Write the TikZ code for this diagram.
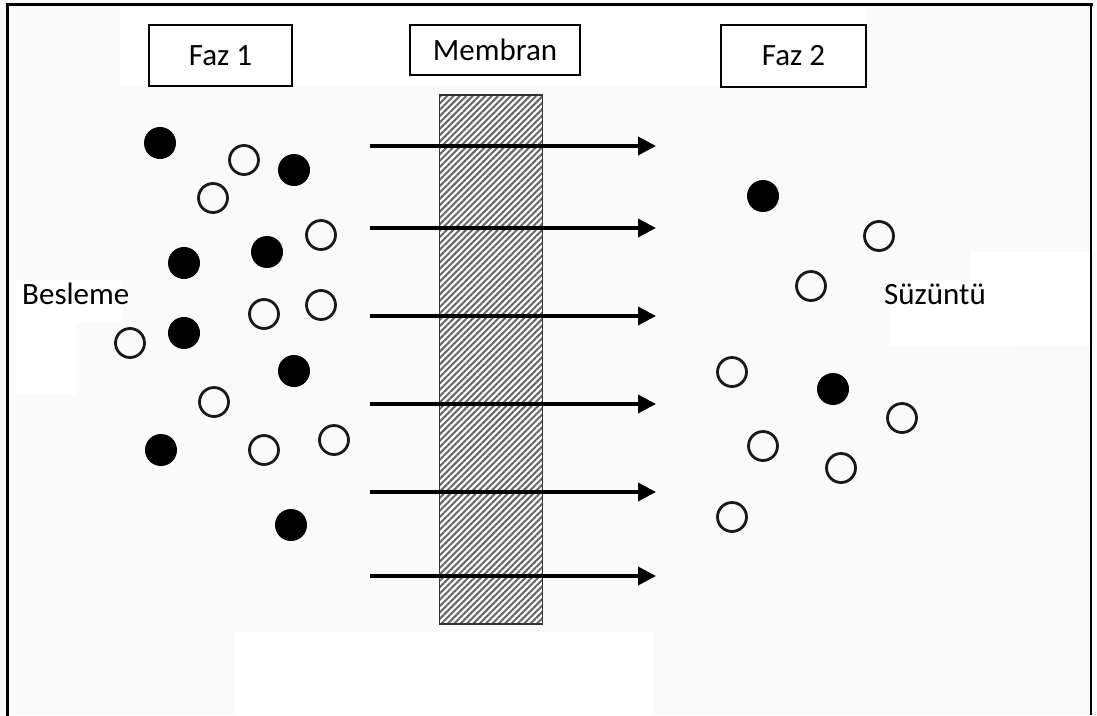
\documentclass[tikz,border=0pt]{standalone}
\usepackage{fontspec}
\setmainfont{Carlito}
\usetikzlibrary{patterns.meta,arrows.meta}
\definecolor{bgray}{HTML}{FAFAFA}
\tikzset{
  filled/.style={circle,fill=black,minimum size=32pt,inner sep=0pt},
  hollow/.style={circle,draw=black!90,line width=2.8pt,minimum size=29pt,inner sep=0pt},
  label box/.style={draw=black,line width=1.3pt,fill=white,inner sep=0pt,font=\fontsize{31}{37}\selectfont},
  plain text/.style={inner sep=0pt,font=\fontsize{31}{37}\selectfont},
  flow/.style={line width=3.5pt,-{Triangle[length=18pt,width=18pt]}},
  frame/.style={line width=3pt,line cap=rect}
}
\begin{document}
\begin{tikzpicture}[x=1pt,y=-1pt]
\useasboundingbox (0,0) rectangle (1097,715);
% background and subtle white patches
\fill[bgray] (0,0) rectangle (1097,715);
\fill[white] (120,8) rectangle (866,87);
\fill[white] (235,632) rectangle (653,715);
\fill[white] (10,280) rectangle (123,323);
\fill[white] (10,323) rectangle (76,395);
\fill[white] (970,252) rectangle (1090,345);
\fill[white] (890,280) rectangle (1010,346);
% frame
\coordinate (fl) at (7,715);
\coordinate (ftl) at (7,4.5);
\coordinate (ftr) at (1091,4.5);
\coordinate (fr) at (1091,715);
\draw[frame] (fl) -- (ftl) -- (ftr);
\draw[line width=1.5pt] (ftr) -- (fr);
% label boxes
\node[label box,minimum width=143pt,minimum height=61pt] (faz1) at (220.5,55.5) {Faz 1};
\node[label box,minimum width=170pt,minimum height=50pt] (membran) at (495,50) {Membran};
\node[label box,minimum width=145pt,minimum height=62pt] (faz2) at (793.5,56) {Faz 2};
% side labels
\node[plain text,anchor=base west] (besleme) at (22,304) {Besleme};
\node[plain text,anchor=base west] (suzuntu) at (884,304) {Süzüntü};
% membrane
\node[draw=black!80,line width=1.5pt,minimum width=103pt,minimum height=529pt,inner sep=0pt,
  pattern={Lines[angle=45,distance=4.5pt,line width=2pt]},pattern color=black!60] (mem) at (491,359.5) {};
% arrows
\foreach \i/\y in {1/146,2/228,3/316,4/404,5/492,6/576}{
  \coordinate (s\i) at (370,\y);
  \coordinate (e\i) at (656,\y);
  \draw[flow] (s\i) -- (e\i);
}
% feed side particles
\node[filled] (a1) at (160,143) {};
\node[hollow] (a2) at (244,160) {};
\node[filled] (a3) at (294,170) {};
\node[hollow] (a4) at (213,198) {};
\node[hollow] (a5) at (321,235) {};
\node[filled] (a6) at (267,252) {};
\node[filled] (a7) at (184,263) {};
\node[hollow] (a8) at (264,314) {};
\node[hollow] (a9) at (321,305) {};
\node[filled] (a10) at (184,333) {};
\node[hollow] (a11) at (130,343) {};
\node[filled] (a12) at (294,371) {};
\node[hollow] (a13) at (214,402) {};
\node[filled] (a14) at (161,450) {};
\node[hollow] (a15) at (264,450) {};
\node[hollow] (a16) at (334,440) {};
\node[filled] (a17) at (291,525) {};
% permeate side particles
\node[filled] (b1) at (763,196) {};
\node[hollow] (b2) at (879,236) {};
\node[hollow] (b3) at (811,286) {};
\node[hollow] (b4) at (732,372) {};
\node[filled] (b5) at (833,389) {};
\node[hollow] (b6) at (902,418) {};
\node[hollow] (b7) at (763,446) {};
\node[hollow] (b8) at (841,468) {};
\node[hollow] (b9) at (732,517) {};
\end{tikzpicture}
\end{document}
